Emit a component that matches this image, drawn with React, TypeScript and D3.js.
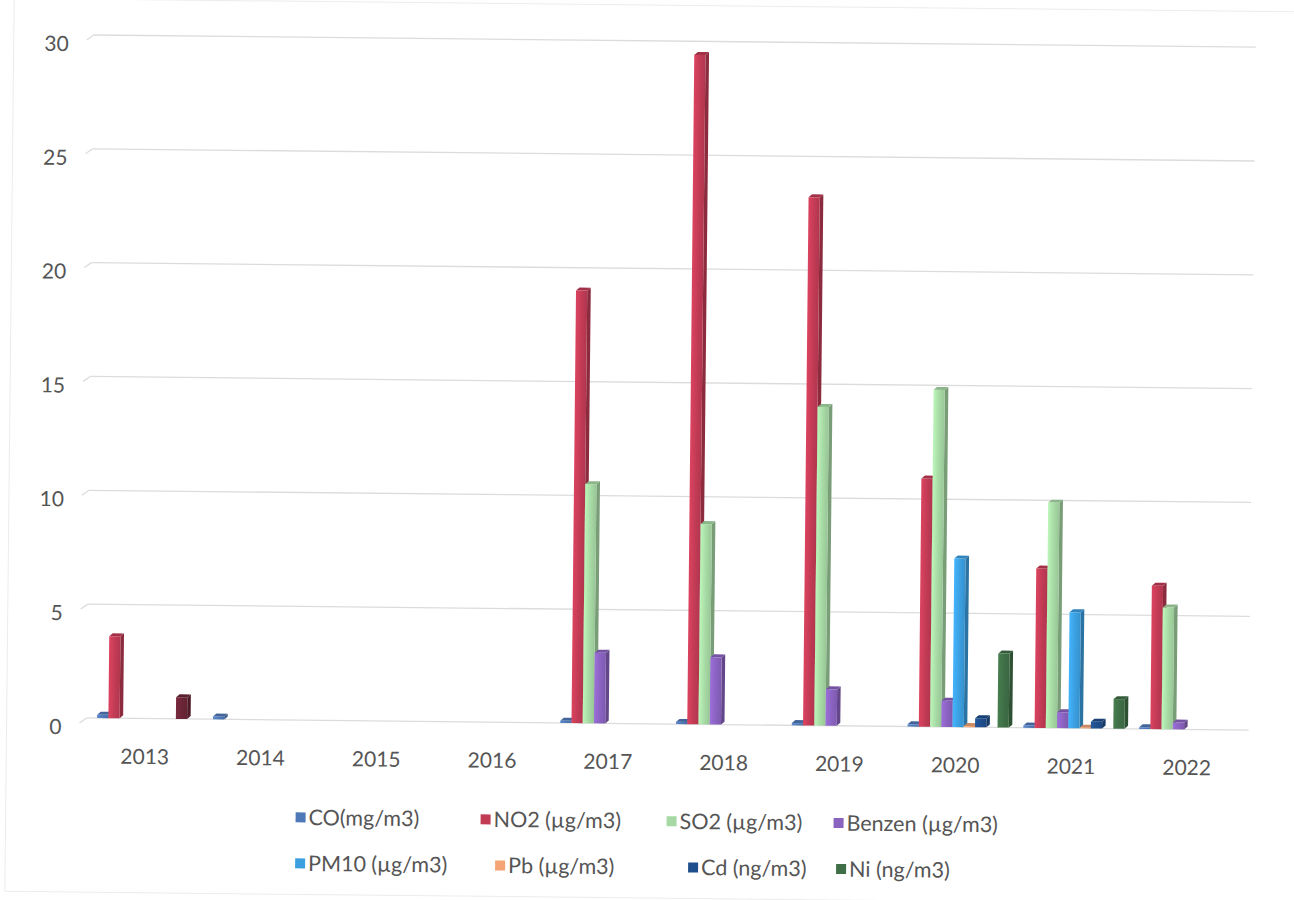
import React from "react";
import * as d3 from "d3";

// Yearly measurements per pollutant (null = no measurement that year)
const years = ["2013", "2014", "2015", "2016", "2017", "2018", "2019", "2020", "2021", "2022"];

const coValues = [0.15, 0.12, null, null, 0.1, 0.1, 0.1, 0.1, 0.1, 0.08];
const no2Values = [3.6, null, null, null, 19.0, 29.4, 23.2, 10.9, 7.0, 6.3];
const so2Values = [null, null, null, null, 10.5, 8.8, 14.0, 14.8, 9.9, 5.35];
const benzenValues = [null, null, null, null, 3.1, 2.95, 1.6, 1.15, 0.7, 0.3];
const pm10Values = [null, null, null, null, null, null, null, 7.4, 5.1, null];
const pbValues = [null, null, null, null, null, null, null, 0.05, 0.03, null];
const cdValues = [null, null, null, null, null, null, null, 0.4, 0.3, null];
const asValues = [0.95, null, null, null, null, null, null, null, null, null];
const niValues = [null, null, null, null, null, null, null, 3.25, 1.3, null];

const seriesNames = [
  "CO(mg/m3)",
  "NO2 (µg/m3)",
  "SO2 (µg/m3)",
  "Benzen (µg/m3)",
  "PM10 (µg/m3)",
  "Pb (µg/m3)",
  "Cd (ng/m3)",
  "As (ng/m3)",
  "Ni (ng/m3)",
];
const seriesValues = [
  coValues,
  no2Values,
  so2Values,
  benzenValues,
  pm10Values,
  pbValues,
  cdValues,
  asValues,
  niValues,
];
const seriesColors = [
  "#4f78b8",
  "#c23b55",
  "#a6d9a4",
  "#8a62c0",
  "#3b9fe0",
  "#f4a475",
  "#1f4e8c",
  "#6b2536",
  "#3f6f46",
];
// The As series has its legend entry removed
const legendEntries = [
  "CO(mg/m3)",
  "NO2 (µg/m3)",
  "SO2 (µg/m3)",
  "Benzen (µg/m3)",
  "PM10 (µg/m3)",
  "Pb (µg/m3)",
  "Cd (ng/m3)",
  "Ni (ng/m3)",
];
const yTicks = [0, 5, 10, 15, 20, 25, 30];

// Layout
const W = 1294;
const H = 900;
const TILT = 0.6; // degrees
const plot = { left: 90.6, right: 1248.4, top: 40.8, bottom: 723.8 };
const gridX = [90, 1252];
const depth = { dx: 3.5, dy: 3 };
const legendRows = [
  { y: 821, xs: [300, 485, 671, 838] },
  { y: 867, xs: [300, 500, 693, 841] },
];
const FONT = "Lato, 'Open Sans', sans-serif";
const TEXT = "#555555";

export default function App() {
  const x0 = d3.scaleBand<string>().domain(years).range([plot.left, plot.right]);
  const x1 = d3
    .scaleBand<string>()
    .domain(seriesNames)
    .range([0, x0.bandwidth()])
    .paddingInner(0)
    .paddingOuter(0.647)
    .align(0.68);
  const y = d3.scaleLinear().domain([0, 30]).range([plot.bottom, plot.top]);

  const bars: { key: string; s: number; x: number; v: number }[] = [];
  years.forEach((yr, i) => {
    seriesNames.forEach((name, s) => {
      const v = seriesValues[s][i];
      if (v == null) return;
      bars.push({ key: `${yr}-${s}`, s, x: (x0(yr) ?? 0) + (x1(name) ?? 0), v });
    });
  });

  const w = x1.bandwidth();
  const colorOf = (s: number) => d3.color(seriesColors[s])!;

  return (
    <svg
      width={W}
      height={H}
      style={{ position: "absolute", left: 0, top: 0, background: "#ffffff" }}
      fontFamily={FONT}
    >
      <defs>
        {seriesColors.map((c, s) => (
          <linearGradient key={s} id={`face-${s}`} x1="0" x2="1" y1="0" y2="0">
            <stop offset="0%" stopColor={d3.color(c)!.brighter(0.35).formatHex()} />
            <stop offset="55%" stopColor={c} />
            <stop offset="100%" stopColor={d3.color(c)!.darker(0.25).formatHex()} />
          </linearGradient>
        ))}
      </defs>
      <g transform={`rotate(${TILT}, ${W / 2}, ${H / 2 - 50})`}>
        {/* chart area border */}
        <rect x={10} y={5} width={1290} height={893} fill="none" stroke="#ececec" strokeWidth={1} />

        {/* back-wall gridlines with the side-wall stub */}
        {yTicks.map((t) => (
          <g key={t}>
            <line
              x1={gridX[0]}
              x2={gridX[1]}
              y1={y(t)}
              y2={y(t)}
              stroke="#dcdcdc"
              strokeWidth={1.3}
            />
            <line
              x1={gridX[0] - 7}
              x2={gridX[0]}
              y1={y(t) + 5}
              y2={y(t)}
              stroke="#dcdcdc"
              strokeWidth={1.3}
            />
          </g>
        ))}

        {/* y tick labels */}
        {yTicks.map((t) => (
          <text
            key={t}
            x={65}
            y={y(t) + 9}
            dy="0.35em"
            textAnchor="end"
            fontSize={21}
            fill={TEXT}
          >
            {t}
          </text>
        ))}

        {/* 3D columns */}
        {bars.map((b) => {
          const c = colorOf(b.s);
          const top = y(b.v);
          const base = y(0);
          const side = c.darker(0.9).formatHex();
          const cap = c.darker(0.5).formatHex();
          const { dx, dy } = depth;
          return (
            <g key={b.key}>
              <polygon
                points={`${b.x + w},${top} ${b.x + w + dx},${top - dy} ${b.x + w + dx},${base - dy} ${b.x + w},${base}`}
                fill={side}
              />
              <polygon
                points={`${b.x},${top} ${b.x + dx},${top - dy} ${b.x + w + dx},${top - dy} ${b.x + w},${top}`}
                fill={cap}
              />
              <rect x={b.x} y={top} width={w} height={base - top} fill={`url(#face-${b.s})`} />
            </g>
          );
        })}

        {/* category labels */}
        {years.map((yr) => (
          <text
            key={yr}
            x={(x0(yr) ?? 0) + x0.bandwidth() / 2}
            y={762}
            dy="0.35em"
            textAnchor="middle"
            fontSize={21}
            fill={TEXT}
          >
            {yr}
          </text>
        ))}

        {/* legend */}
        {legendEntries.map((name, i) => {
          const row = legendRows[Math.floor(i / 4)];
          const lx = row.xs[i % 4];
          const s = seriesNames.indexOf(name);
          return (
            <g key={name} transform={`translate(${lx}, ${row.y})`}>
              <rect x={0} y={-5} width={10} height={10} fill={seriesColors[s]} />
              <text x={13} y={0} dy="0.35em" fontSize={21.5} fill={TEXT}>
                {name}
              </text>
            </g>
          );
        })}
      </g>
    </svg>
  );
}
